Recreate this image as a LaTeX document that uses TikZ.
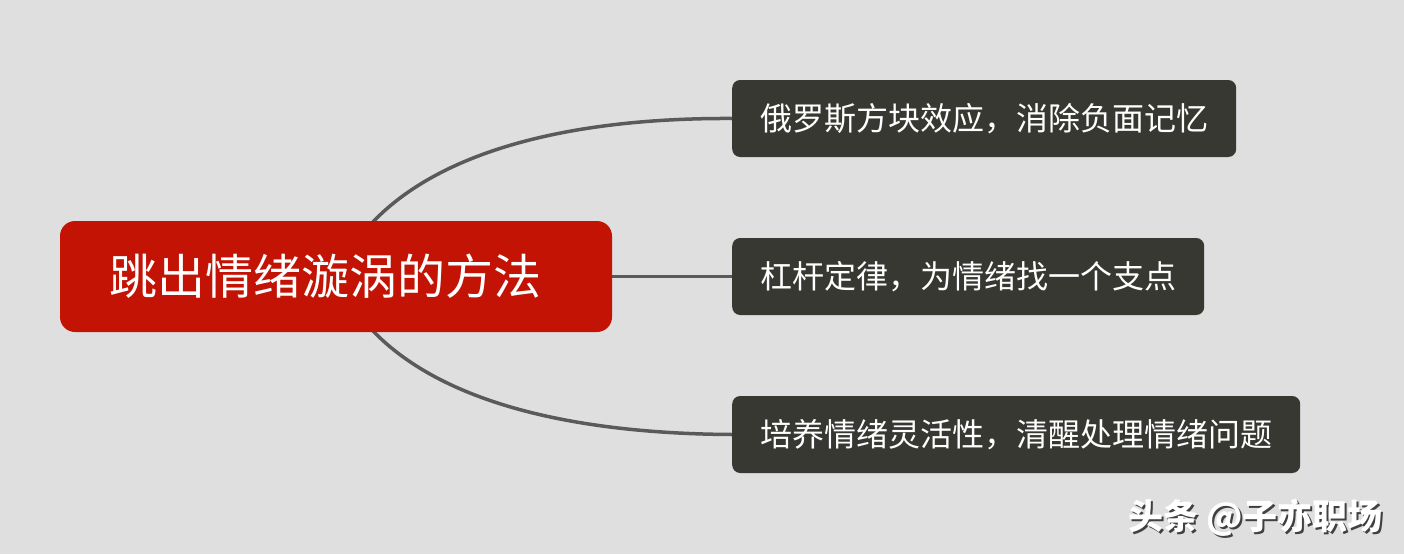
\documentclass[tikz,border=0pt]{standalone}
\usepackage{fontspec}
\setmainfont{Noto Sans CJK SC}
\newfontfamily\cjk{Noto Sans CJK SC}
\usetikzlibrary{backgrounds}
\pgfdeclarelayer{back}
\pgfdeclarelayer{lines}
\pgfsetlayers{back,lines,main}
\definecolor{bgcol}{RGB}{223,223,223}
\definecolor{rootred}{RGB}{194,19,5}
\definecolor{childdark}{RGB}{56,56,51}
\definecolor{linegray}{RGB}{90,90,90}
\tikzset{
  rootbox/.style={fill=rootred, rounded corners=15pt, minimum width=552pt, minimum height=111pt, inner sep=0pt, text=white, font=\cjk\fontsize{48}{52}\selectfont},
  childbox/.style={fill=childdark, rounded corners=8pt, minimum height=77pt, inner xsep=28pt, inner ysep=0pt, anchor=west, text=white, font=\cjk\fontsize{32}{36}\selectfont},
  conn/.style={draw=linegray, line width=3.5pt},
  wmark/.style={anchor=west, inner sep=0pt, font=\cjk\bfseries\fontsize{35}{38}\selectfont}
}
\begin{document}
\begin{tikzpicture}[x=1pt,y=-1pt]
\useasboundingbox (0,0) rectangle (1404,554);
\begin{pgfonlayer}{back}
\fill[bgcol] (0,0) rectangle (1404,554);
\end{pgfonlayer}
\node[rootbox] (root) at (336,276.5) {跳出情绪漩涡的方法\hspace*{22pt}};
\node[childbox] (c1) at (732,118.5) {俄罗斯方块效应，消除负面记忆};
\node[childbox] (c2) at (732,276.5) {杠杆定律，为情绪找一个支点};
\node[childbox] (c3) at (732,434.5) {培养情绪灵活性，清醒处理情绪问题};
\begin{pgfonlayer}{lines}
\draw[conn] (root.center) .. controls (388,160) and (550,117.5) .. (c1.west);
\draw[conn] (root.center) -- (c2.west);
\draw[conn] (root.center) .. controls (388,393) and (550,433.5) .. (c3.west);
\end{pgfonlayer}
\node[wmark, text=black!75] (wms) at (1130,520) {头条 @子亦职场};
\node[wmark, text=white] (wm) at (1128,518) {头条 @子亦职场};
\end{tikzpicture}
\end{document}
